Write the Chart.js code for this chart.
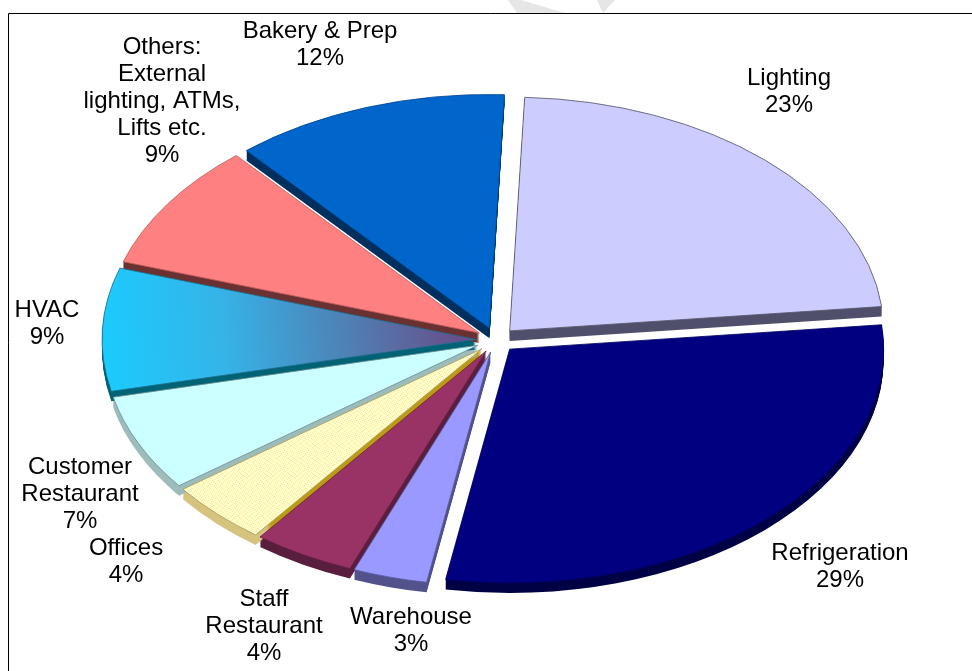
<!DOCTYPE html>
<html>
<head>
<meta charset="utf-8">
<style>
html,body{margin:0;padding:0;background:#fff;overflow:hidden}
#wrap{position:relative;width:972px;height:671px}
canvas{display:block}
</style>
<script src="https://cdn.jsdelivr.net/npm/chart.js@4"></script>
</head>
<body>
<div id="wrap"><canvas id="c" width="972" height="671"></canvas></div>
<script>
// ---- data ----
const categories = ['Lighting','Refrigeration','Warehouse','Staff Restaurant','Offices','Customer Restaurant','HVAC','Others','Bakery & Prep'];
const shareValues = [22.7, 29.4, 3.2, 4.4, 4.4, 6.7, 8.5, 8.8, 11.9];
const labelLines = [
  ['Lighting'],
  ['Refrigeration'],
  ['Warehouse'],
  ['Staff','Restaurant'],
  ['Offices'],
  ['Customer','Restaurant'],
  ['HVAC'],
  ['Others:','External','lighting, ATMs,','Lifts etc.'],
  ['Bakery & Prep']
];
// ---- style ----
const topColors  = ['#ccccff','#000080','#9999ff','#993366','#ffffcc','#ccffff','#1accff','#ff8080','#0066cc'];
const wallColors = ['#50506c','#000045','#52528c','#5a1f3e','#bd9a14','#9dbcbc','#006375','#6b3232','#00305f'];
const edgeColors = ['#55556a','#000060','#5a5a9a','#661f44','#a89a60','#6f8f8f','#1a6f8f','#b85c5c','#00478f'];
const labelAnchors = [[789,78],[840,553],[411,617],[264,599],[126,548],[80,467],[47,310],[162,47],[320,31]];

const CX = 496, CY = 340, TILT = 0.625, DEPTH = 10, EXPLODE = 20, RADIUS = 374;
const FONT = '24px "Liberation Sans", Arial, sans-serif', LINE = 27;

const canvas = document.getElementById('c');
const ctx0 = canvas.getContext('2d');
const sy = y => (y - CY) / TILT + CY;

// HVAC gradient
const hvac = ctx0.createLinearGradient(115, sy(335), 475, sy(322));
hvac.addColorStop(0, '#1accff');
hvac.addColorStop(0.35, '#35b4e8');
hvac.addColorStop(0.7, '#4f80b4');
hvac.addColorStop(1, '#66508c');

// Offices speckle
const sp = document.createElement('canvas'); sp.width = 6; sp.height = 6;
const spc = sp.getContext('2d');
spc.fillStyle = '#ffffd0'; spc.fillRect(0,0,6,6);
spc.fillStyle = '#f7de7a';
[[0,0],[3,1],[1,3],[4,4],[5,2],[2,5]].forEach(p => spc.fillRect(p[0],p[1],1,1));
const speckle = ctx0.createPattern(sp,'repeat');

// Offices wall: gold along the cut edge, tan on the rim
const officeWall = ctx0.createRadialGradient(CX,CY,0,CX,CY,RADIUS);
officeWall.addColorStop(0,'#bd9a14');
officeWall.addColorStop(0.93,'#bd9a14');
officeWall.addColorStop(0.95,'#d6c47e');
officeWall.addColorStop(1,'#d6c47e');

const fills = topColors.map((c,i)=> i===6 ? hvac : i===4 ? speckle : c);
const walls = wallColors.map((c,i)=> i===4 ? officeWall : c);

const pieScene = {
  id:'pieScene',
  beforeDraw(chart){
    const c = chart.ctx;
    c.save();
    c.fillStyle = '#fff'; c.fillRect(0,0,972,671);
    // faint watermark fragments above the frame
    c.fillStyle = '#e6e6e6';
    c.beginPath(); c.moveTo(508,0); c.lineTo(517,13); c.lineTo(565,13); c.lineTo(521,0); c.closePath(); c.fill();
    c.beginPath(); c.moveTo(597,0); c.lineTo(603,13); c.lineTo(615,0); c.closePath(); c.fill();
    // frame
    c.strokeStyle = '#000'; c.lineWidth = 1;
    c.beginPath(); c.moveTo(8.5,671); c.lineTo(8.5,13.5); c.lineTo(972,13.5); c.stroke();
    c.restore();
  },
  beforeDatasetDraw(chart, args){
    const c = chart.ctx;
    const arcs = args.meta.data;
    const place = (arc, drop) => {
      const p = arc.getProps(['startAngle','endAngle']);
      const mid = (p.startAngle + p.endAngle) / 2;
      c.translate(CX, CY + drop);
      c.scale(1, TILT);
      c.translate(-CX, -CY);
      c.translate(Math.cos(mid) * EXPLODE, Math.sin(mid) * EXPLODE);
    };
    // extruded side walls
    arcs.forEach((arc,i) => {
      const wall = Object.create(arc);
      wall.options = Object.assign({}, arc.options, {backgroundColor: walls[i], borderWidth: 0});
      for (let d = DEPTH; d >= 1; d--) {
        c.save(); place(arc, d); wall.draw(c); c.restore();
      }
    });
    // top faces
    arcs.forEach(arc => { c.save(); place(arc, 0); arc.draw(c); c.restore(); });
    return false;
  },
  afterDraw(chart){
    const c = chart.ctx;
    c.save();
    c.font = FONT; c.fillStyle = '#000'; c.textAlign = 'center'; c.textBaseline = 'middle';
    labelLines.forEach((lines,i) => {
      const all = lines.concat([Math.round(shareValues[i]) + '%']);
      all.forEach((t,j) => c.fillText(t, labelAnchors[i][0], labelAnchors[i][1] + j * LINE));
    });
    c.restore();
  }
};

new Chart(canvas, {
  type:'pie',
  data:{ labels:categories, datasets:[{
    data:shareValues,
    backgroundColor:fills,
    borderColor:edgeColors,
    borderWidth:1,
    radius:RADIUS,
    clip:false
  }]},
  options:{
    responsive:false,
    animation:false,
    rotation:2.3,
    layout:{padding:{left:20,top:9}},
    plugins:{legend:{display:false},tooltip:{enabled:false},title:{display:false}}
  },
  plugins:[pieScene]
});
</script>
</body>
</html>
